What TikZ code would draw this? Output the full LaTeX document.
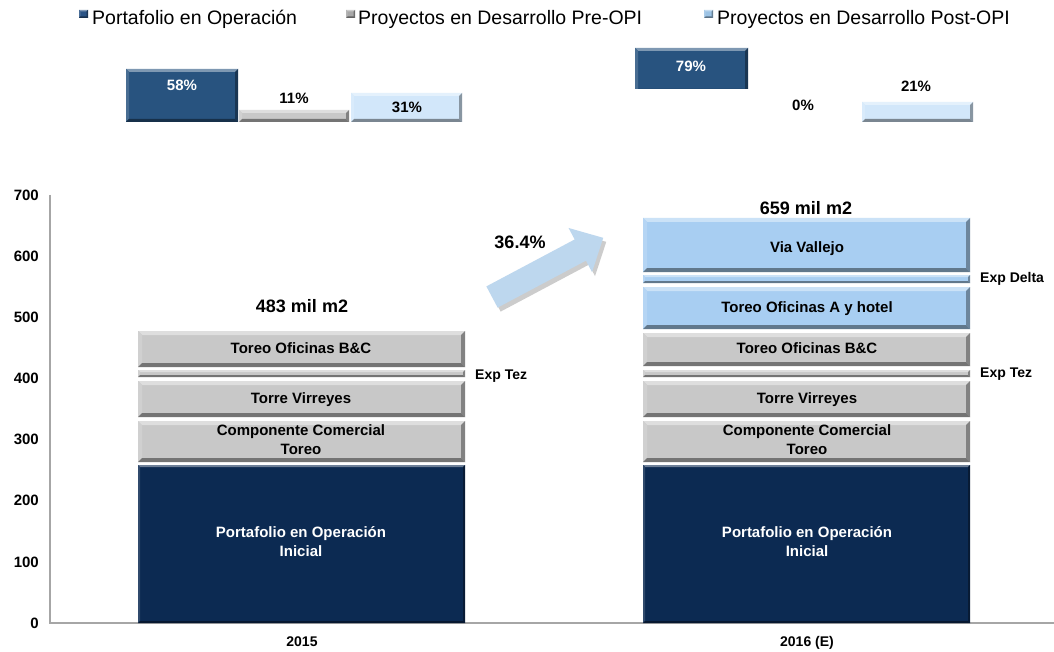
\documentclass[tikz,border=0pt]{standalone}
\usepackage{fontspec}
\setmainfont{Liberation Sans}
\definecolor{navy}{HTML}{0C2A52}
\definecolor{topdark}{HTML}{28537F}
\definecolor{grayb}{HTML}{C8C8C8}
\definecolor{lblue}{HTML}{A8CEF2}
\definecolor{tlblue}{HTML}{D2E7FA}
\definecolor{arrowc}{HTML}{BDD7EE}
\definecolor{axisc}{HTML}{A6A6A6}
\definecolor{legdark}{HTML}{2B5486}
\definecolor{leggray}{HTML}{A8A8A8}
\definecolor{legblue}{HTML}{9CC3E5}
% bevelled box: x1 y1 x2 y2 colour depth
\newcommand\bevrect[6]{%
  \fill[#5] (#1,#2) rectangle (#3,#4);
  \fill[#5!60!white] (#1,#2) -- (#3,#2) -- ({#3-#6},{#2+#6}) -- ({#1+#6},{#2+#6}) -- cycle;
  \fill[#5!85!white] (#1,#2) -- ({#1+#6},{#2+#6}) -- ({#1+#6},{#4-#6}) -- (#1,#4) -- cycle;
  \fill[#5!65!black] (#3,#2) -- (#3,#4) -- ({#3-#6},{#4-#6}) -- ({#3-#6},{#2+#6}) -- cycle;
  \fill[#5!58!black] (#1,#4) -- (#3,#4) -- ({#3-#6},{#4-#6}) -- ({#1+#6},{#4-#6}) -- cycle;
}
\begin{document}
\begin{tikzpicture}[x=1pt,y=-1pt,
  lbl/.style={font=\bfseries\fontsize{15}{19}\selectfont, align=center, inner sep=0pt},
  wlbl/.style={lbl, text=white},
  bl/.style={lbl, anchor=base},
  side/.style={font=\bfseries\fontsize{14}{16}\selectfont, inner sep=0pt, anchor=base west},
  tick/.style={font=\bfseries\fontsize{15}{17}\selectfont, inner sep=0pt, anchor=east},
  cat/.style={font=\bfseries\fontsize{14}{16}\selectfont, inner sep=0pt, anchor=base},
  total/.style={font=\bfseries\fontsize{18}{20}\selectfont, inner sep=0pt, anchor=base},
  leg/.style={font=\fontsize{19.5}{22}\selectfont, inner sep=0pt, anchor=base west},
  axisline/.style={draw=axisc, line width=1.2pt}]
\useasboundingbox (0,0) rectangle (1054,652);
\fill[white] (0,0) rectangle (1054,652);

% legend
\bevrect{79}{10}{88}{18}{legdark}{1.5}
\node[leg] (leg1) at (92,25) {Portafolio en Operación};
\bevrect{346}{10}{355}{18}{leggray}{1.5}
\node[leg] (leg2) at (358,25) {Proyectos en Desarrollo Pre-OPI};
\bevrect{704}{10}{713}{18}{legblue}{1.5}
\node[leg] (leg3) at (717,25) {Proyectos en Desarrollo Post-OPI};

% top small bars
\bevrect{126}{69}{238}{122}{topdark}{3}
\node[bl, text=white] (p58) at (182,91) {58\%};
\bevrect{239}{110}{349}{122}{grayb}{3}
\node[bl] (p11) at (294,104) {11\%};
\bevrect{351}{93}{462}{122}{tlblue}{3}
\node[bl] (p31) at (407,113) {31\%};
\bevrect{635}{48}{748}{92}{topdark}{3}
\fill[white] (630,89) rectangle (752,95);
\node[bl, text=white] (p79) at (691,72) {79\%};
\node[bl] (p0) at (803,111) {0\%};
\bevrect{862}{102}{973}{122}{tlblue}{3}
\node[bl] (p21) at (916,92) {21\%};

% axes
\draw[axisline] (50,195) -- (50,623) -- (1054,623);
\foreach \v in {0,100,...,700}
  \node[tick] (t\v) at (39,{623-0.6114*\v}) {\v};

% bar 2015
\bevrect{138}{465}{465}{623}{navy}{2}
\node[wlbl] (a1) at (301,542) {Portafolio en Operación\\Inicial};
\bevrect{138}{421}{465}{462}{grayb}{4}
\node[lbl] (a2) at (301,440) {Componente Comercial\\Toreo};
\bevrect{138}{381}{465}{417}{grayb}{4}
\node[bl] (a3) at (301,403) {Torre Virreyes};
\bevrect{138}{370}{465}{377}{grayb}{2}
\node[side] (a4) at (475,379) {Exp Tez};
\bevrect{138}{331}{465}{367}{grayb}{4}
\node[bl] (a5) at (301,353) {Toreo Oficinas B\&C};
\node[total] (tot1) at (302,312.5) {483 mil m2};
\node[cat] (c1) at (302,646) {2015};

% bar 2016
\bevrect{643}{465}{970}{623}{navy}{2}
\node[wlbl] (b1) at (807,542) {Portafolio en Operación\\Inicial};
\bevrect{643}{421}{970}{462}{grayb}{4}
\node[lbl] (b2) at (807,440) {Componente Comercial\\Toreo};
\bevrect{643}{381}{970}{417}{grayb}{4}
\node[bl] (b3) at (807,403) {Torre Virreyes};
\bevrect{643}{370}{970}{377}{grayb}{2}
\node[side] (b4) at (980,377) {Exp Tez};
\bevrect{643}{333}{970}{366}{grayb}{4}
\node[bl] (b5) at (807,353) {Toreo Oficinas B\&C};
\bevrect{643}{287}{970}{329}{lblue}{4}
\node[bl] (b6) at (807,312) {Toreo Oficinas A y hotel};
\bevrect{643}{275}{970}{283}{lblue}{2}
\node[side] (b7) at (980,283) {Exp Delta};
\bevrect{643}{218}{970}{272}{lblue}{4}
\node[bl] (b8) at (807,253) {Via Vallejo};
\node[total] (tot2) at (806,214.5) {659 mil m2};
\node[cat] (c2) at (807,646) {2016 (E)};

% growth arrow
\begin{scope}[shift={(495,301)}, rotate=28]
  \fill[black, opacity=0.2] (0,-12) -- (100,-12) -- (100,-25) -- (126,0) -- (100,25) -- (100,12) -- (0,12) -- cycle;
\end{scope}
\begin{scope}[shift={(492,297)}, rotate=28]
  \fill[arrowc] (0,-12) -- (100,-12) -- (100,-25) -- (126,0) -- (100,25) -- (100,12) -- (0,12) -- cycle;
\end{scope}
\node[total] (g) at (520,248) {36.4\%};
\end{tikzpicture}
\end{document}
